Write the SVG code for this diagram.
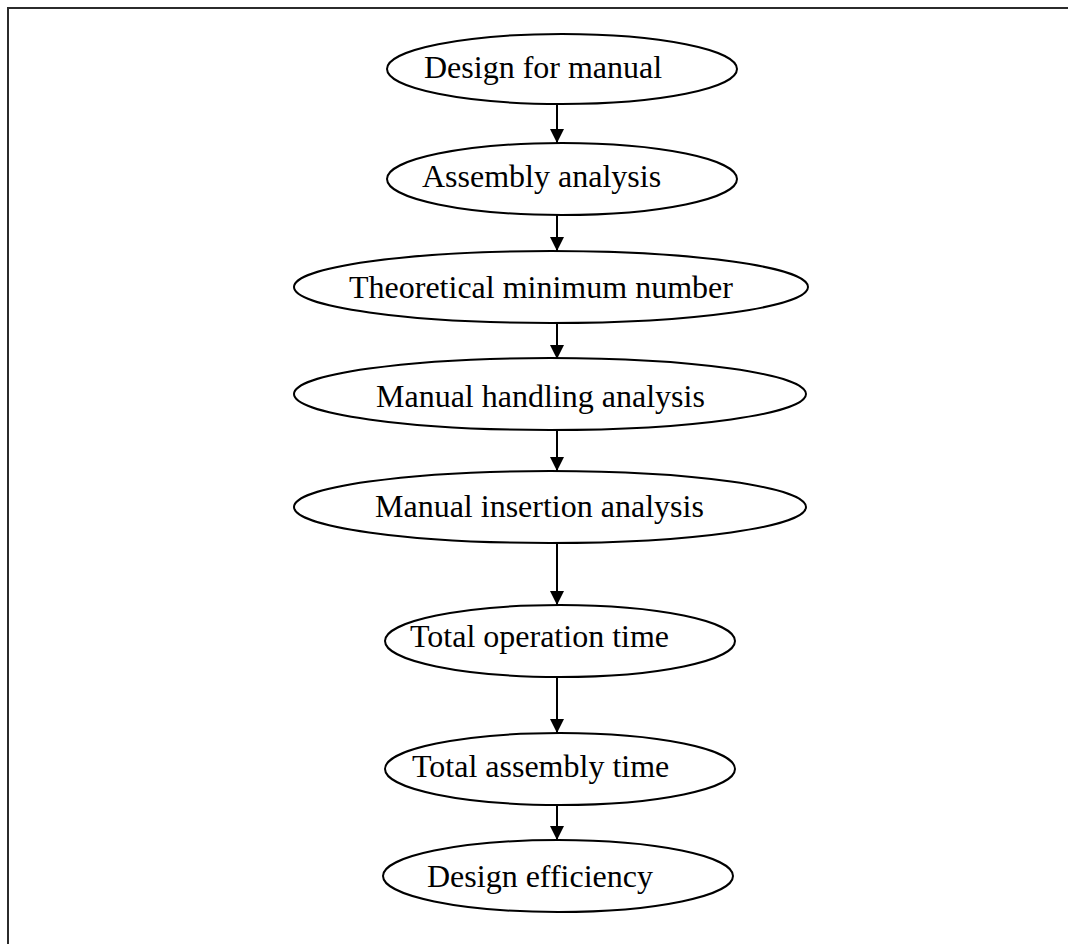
<svg xmlns="http://www.w3.org/2000/svg" width="1068" height="944" viewBox="0 0 1068 944">
  <style>
    .node ellipse { fill: #ffffff; stroke: #000000; stroke-width: 2; }
    .node text { font-family: "Liberation Serif", "Times New Roman", serif; font-size: 32px; fill: #000000; }
    .edge { stroke: #000000; stroke-width: 2; fill: none; marker-end: url(#arrow); }
  </style>
  <defs>
    <marker id="arrow" markerWidth="14" markerHeight="16" refX="14" refY="7" orient="auto" markerUnits="userSpaceOnUse">
      <path d="M0,0 L14,7 L0,14 Z" fill="#000000"/>
    </marker>
  </defs>

  <rect x="0" y="0" width="1068" height="944" fill="#ffffff"/>
  <!-- frame, running off the right and bottom edges -->
  <rect x="8" y="8" width="1100" height="1000" fill="none" stroke="#2b2b2b" stroke-width="2"/>

  <g id="connectors">
    <line class="edge" x1="557" y1="104" x2="557" y2="143"/>
    <line class="edge" x1="557" y1="215" x2="557" y2="251"/>
    <line class="edge" x1="557" y1="323" x2="557" y2="359"/>
    <line class="edge" x1="557" y1="430" x2="557" y2="471"/>
    <line class="edge" x1="557" y1="543" x2="557" y2="605"/>
    <line class="edge" x1="557" y1="677" x2="557" y2="733"/>
    <line class="edge" x1="557" y1="805" x2="557" y2="840"/>
  </g>

  <g id="node-design-for-manual" class="node">
    <ellipse cx="562" cy="69" rx="175" ry="35"/>
    <text x="424" y="78">Design for manual</text>
  </g>
  <g id="node-assembly-analysis" class="node">
    <ellipse cx="562" cy="179" rx="175" ry="36"/>
    <text x="422" y="187">Assembly analysis</text>
  </g>
  <g id="node-theoretical-minimum" class="node">
    <ellipse cx="551" cy="287" rx="257" ry="36"/>
    <text x="349" y="298">Theoretical minimum number</text>
  </g>
  <g id="node-manual-handling" class="node">
    <ellipse cx="550" cy="394" rx="256" ry="36"/>
    <text x="376" y="407">Manual handling analysis</text>
  </g>
  <g id="node-manual-insertion" class="node">
    <ellipse cx="550" cy="507" rx="256" ry="36"/>
    <text x="375" y="517">Manual insertion analysis</text>
  </g>
  <g id="node-total-operation-time" class="node">
    <ellipse cx="560" cy="641" rx="175" ry="36"/>
    <text x="410" y="647">Total operation time</text>
  </g>
  <g id="node-total-assembly-time" class="node">
    <ellipse cx="560" cy="769" rx="175" ry="36"/>
    <text x="412" y="777">Total assembly time</text>
  </g>
  <g id="node-design-efficiency" class="node">
    <ellipse cx="558" cy="876" rx="175" ry="36"/>
    <text x="427" y="887">Design efficiency</text>
  </g>
</svg>
